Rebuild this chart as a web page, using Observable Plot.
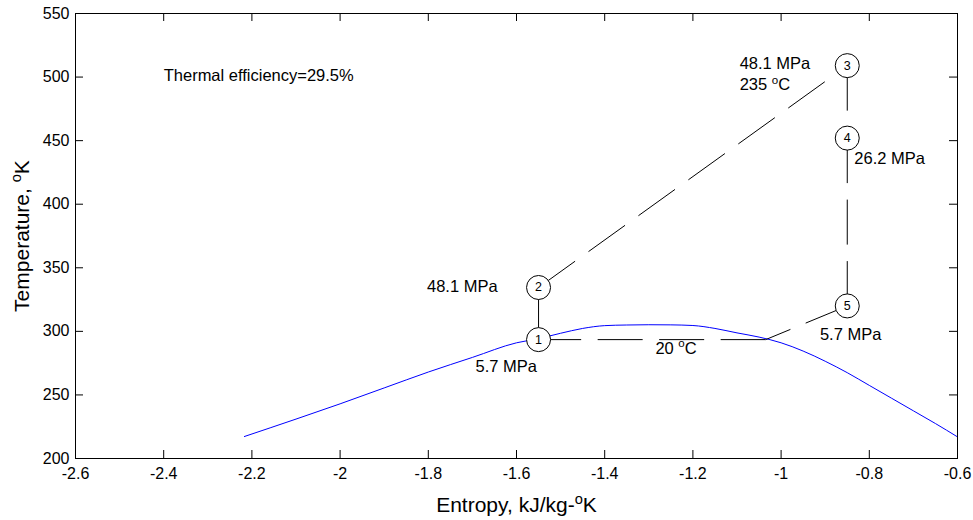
<!DOCTYPE html>
<html><head><meta charset="utf-8">
<script src="https://cdn.jsdelivr.net/npm/d3@7"></script>
<script src="https://cdn.jsdelivr.net/npm/@observablehq/plot@0.6"></script>
<style>html,body{margin:0;padding:0;background:#fff} svg{display:block}</style>
</head><body><div id="chart"></div>
<script>
// Axis ticks
const xTicks = [-2.6, -2.4, -2.2, -2, -1.8, -1.6, -1.4, -1.2, -1, -0.8, -0.6];
const yTicks = [200, 250, 300, 350, 400, 450, 500, 550];

// Saturation curve (blue)
const satEntropy = [-2.217, -2.1, -2.0, -1.9, -1.8, -1.7, -1.6, -1.55, -1.5, -1.45, -1.4, -1.35, -1.3, -1.25, -1.2, -1.15, -1.1, -1.05, -1.0, -0.95, -0.9, -0.85, -0.8, -0.75, -0.7, -0.65, -0.6];
const satTemp    = [217.3, 231, 243, 255.5, 268, 279.5, 291, 294.3, 298.5, 302.3, 304.5, 305, 305.2, 305.1, 304.6, 302.3, 298.8, 295.5, 291, 284.5, 276.5, 267.5, 257.5, 247.5, 237.5, 227.5, 217];

// Cycle states
const stateLabels  = ["1", "2", "3", "4", "5"];
const stateEntropy = [-1.55, -1.55, -0.85, -0.85, -0.85];
const stateTemp    = [293.5, 334.5, 509, 452, 320];

// Cycle path corners: 1 -> 2 -> 3 -> 4 -> 5 -> knee -> 1
const cycleEntropy = [-1.55, -1.55, -0.85, -0.85, -0.85, -1.035, -1.55];
const cycleTemp    = [293.5, 334.5, 509, 452, 320, 293.5, 293.5];

// Annotations
const noteTexts   = ["Thermal efficiency=29.5%", "48.1 MPa", "5.7 MPa", "20 ^oC", "48.1 MPa", "235 ^oC", "26.2 MPa", "5.7 MPa"];
const noteEntropy = [-2.4, -1.803, -1.693, -1.285, -1.094, -1.094, -0.834, -0.912];
const noteTemp    = [501.2, 335.3, 271.9, 286.6, 510.5, 494, 436.1, 297.5];

const xLabel = "Entropy, kJ/kg-^oK";
const yLabel = "Temperature, ^oK";

const sat = satEntropy.map((s, i) => ({s, T: satTemp[i]}));
const states = stateLabels.map((l, i) => ({l, s: stateEntropy[i], T: stateTemp[i]}));
const segs = d3.range(cycleEntropy.length - 1).map(i => ({
  x1: cycleEntropy[i], y1: cycleTemp[i], x2: cycleEntropy[i + 1], y2: cycleTemp[i + 1]
}));
const notes = noteTexts.map((t, i) => ({t, s: noteEntropy[i], T: noteTemp[i]}));

const W = 973, H = 520, mL = 75, mR = 16, mT = 13, mB = 62;
const pw = W - mL - mR, ph = H - mT - mB, tl = 8;

const plot = Plot.plot({
  width: W, height: H,
  marginLeft: mL, marginRight: mR, marginTop: mT, marginBottom: mB,
  style: {fontFamily: "'Liberation Sans', Arial, sans-serif", fontSize: "16px", color: "#000", background: "#fff"},
  x: {domain: [-2.6, -0.6]},
  y: {domain: [200, 550]},
  marks: [
    Plot.line(sat, {x: "s", y: "T", stroke: "#0000ff", strokeWidth: 1, curve: "monotone-x"}),
    Plot.link(segs, {x1: "x1", y1: "y1", x2: "x2", y2: "y2", stroke: "#000", strokeWidth: 1, strokeDasharray: "45,16.5"}),
    Plot.dot(states, {x: "s", y: "T", r: 12, fill: "#fff", stroke: "#000", strokeWidth: 1}),
    Plot.text(states, {x: "s", y: "T", text: "l", fontSize: 12.5, fill: "#000"}),
    Plot.text(notes, {x: "s", y: "T", text: "t", textAnchor: "start", fontSize: 16.5, fill: "#000"}),
    Plot.frame({stroke: "#000", strokeWidth: 1}),
    Plot.tickX(xTicks, {x: d => d, insetTop: ph - tl, stroke: "#000"}),
    Plot.tickX(xTicks, {x: d => d, insetBottom: ph - tl, stroke: "#000"}),
    Plot.tickY(yTicks, {y: d => d, insetRight: pw - tl, stroke: "#000"}),
    Plot.tickY(yTicks, {y: d => d, insetLeft: pw - tl, stroke: "#000"}),
    Plot.axisX(xTicks, {anchor: "bottom", tickSize: 0, tickPadding: 9, tickFormat: d => String(d), label: null, fontSize: 16}),
    Plot.axisY(yTicks, {anchor: "left", tickSize: 0, tickPadding: 6, tickFormat: d => String(d), label: null, fontSize: 16}),
    Plot.text([xLabel], {text: d => d, frameAnchor: "bottom", textAnchor: "middle", lineAnchor: "middle", dy: 47, fontSize: 21, fill: "#000"}),
    Plot.text([yLabel], {text: d => d, frameAnchor: "left", textAnchor: "middle", lineAnchor: "middle", rotate: -90, dx: -53, fontSize: 21, fill: "#000"})
  ]
});

document.getElementById("chart").append(plot);

// Render "^o" as a superscript o
const ns = "http://www.w3.org/2000/svg";
for (const t of plot.querySelectorAll("text")) {
  const s = t.textContent;
  if (!s.includes("^o")) continue;
  const fs = parseFloat(getComputedStyle(t).fontSize) || 16;
  const [a, b] = s.split("^o");
  t.textContent = "";
  const t1 = document.createElementNS(ns, "tspan"); t1.textContent = a;
  const t2 = document.createElementNS(ns, "tspan"); t2.textContent = "o";
  t2.setAttribute("font-size", fs * 0.7); t2.setAttribute("dy", -0.38 * fs);
  const t3 = document.createElementNS(ns, "tspan"); t3.textContent = b;
  t3.setAttribute("dy", 0.38 * fs);
  t.append(t1, t2, t3);
}
</script>
</body></html>
